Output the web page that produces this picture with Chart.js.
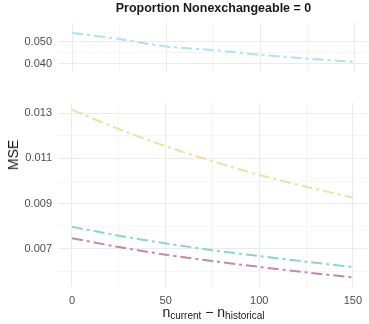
<!DOCTYPE html>
<html>
<head>
<meta charset="utf-8">
<script src="https://cdn.jsdelivr.net/npm/chart.js@4"></script>
<style>
  body { margin: 0; background: #fff; font-family: "Liberation Sans", Arial, sans-serif; }
  #wrap { position: relative; width: 369px; height: 324px; }
  #titulo { position: absolute; left: 58px; width: 311px; top: 1px; text-align: center; font-weight: bold; font-size: 12.5px; color: #1a1a1a; }
  #ylab { position: absolute; left: 13px; top: 155px; transform: translate(-50%, -50%) rotate(-90deg); font-size: 14px; color: #1a1a1a; white-space: nowrap; }
  #xlab { position: absolute; left: 58px; width: 311px; top: 304px; text-align: center; font-size: 14px; color: #1a1a1a; white-space: nowrap; }
  #xlab sub { font-size: 10px; vertical-align: -2px; }
  #cTop { position: absolute; left: 0; top: 0; }
  #cBot { position: absolute; left: 0; top: 90px; }
</style>
</head>
<body>
<div id="wrap">
  <canvas id="cTop" width="369" height="84"></canvas>
  <canvas id="cBot" width="369" height="234"></canvas>
  <div id="titulo">Proportion Nonexchangeable = 0</div>
  <div id="ylab">MSE</div>
  <div id="xlab">n<sub>current</sub> &minus; n<sub>historical</sub></div>
</div>
<script>
// datos
const diferencias = [0, 25, 50, 75, 100, 125, 150];
const mseAzul     = [0.0540, 0.0512, 0.0478, 0.0462, 0.0440, 0.0423, 0.0408];
const mseAmarillo = [0.01315, 0.01230, 0.01154, 0.01088, 0.01027, 0.00975, 0.00927];
const mseVerde    = [0.00797, 0.00758, 0.00724, 0.00694, 0.00668, 0.00643, 0.00619];
const mseRosa     = [0.00747, 0.00708, 0.00674, 0.00646, 0.00620, 0.00596, 0.00573];

const xTicks = [0, 25, 50, 75, 100, 125, 150];
const xLabels = [0, 50, 100, 150];
const yTicksTop = [0.040, 0.045, 0.050];
const yLabelsTop = [0.040, 0.050];
const yTicksBot = [0.006, 0.007, 0.008, 0.009, 0.010, 0.011, 0.012, 0.013];
const yLabelsBot = [0.007, 0.009, 0.011, 0.013];

const FUENTE = "'Liberation Sans', Arial, sans-serif";
const dash = [11, 4, 3, 4];

function serie(valores, color) {
    return {
        data: diferencias.map((x, i) => ({ x: x, y: valores[i] })),
        borderColor: color,
        borderWidth: 2,
        borderDash: dash,
        pointRadius: 0,
        tension: 0.3,
        fill: false
    };
}

function esMayor(v, lista) {
    return lista.some(t => Math.abs(t - v) < 1e-9);
}

function gridOpts(lista) {
    return {
        color: ctx => esMayor(ctx.tick.value, lista) ? '#ebebeb' : '#f3f3f3',
        lineWidth: ctx => esMayor(ctx.tick.value, lista) ? 1.1 : 0.8,
        drawTicks: false
    };
}

function ejeX(conEtiquetas) {
    return {
        type: 'linear',
        min: -7.5,
        max: 157.5,
        afterBuildTicks: s => { s.ticks = xTicks.map(v => ({ value: v })); },
        afterFit: s => { s.height = conEtiquetas ? 37 : 0; },
        grid: gridOpts(xLabels),
        border: { display: false },
        ticks: {
            display: conEtiquetas,
            padding: 7,
            maxRotation: 0,
            color: '#4d4d4d',
            font: { family: FUENTE, size: 11 },
            callback: v => esMayor(v, xLabels) ? String(v) : ''
        }
    };
}

function ejeY(min, max, ticks, labels) {
    return {
        min: min,
        max: max,
        afterBuildTicks: s => { s.ticks = ticks.map(v => ({ value: v })); },
        afterFit: s => { s.width = 58; },
        grid: gridOpts(labels),
        border: { display: false },
        ticks: {
            padding: 6,
            color: '#4d4d4d',
            font: { family: FUENTE, size: 11 },
            callback: v => esMayor(v, labels) ? v.toFixed(3) : ''
        }
    };
}

const comunes = {
    responsive: false,
    animation: false,
    plugins: { legend: { display: false }, tooltip: { enabled: false } }
};

new Chart(document.getElementById('cTop'), {
    type: 'line',
    data: { datasets: [serie(mseAzul, '#b3def3')] },
    options: {
        ...comunes,
        layout: { padding: { top: 23, bottom: 4, left: 0, right: 0 } },
        scales: {
            x: ejeX(false),
            y: ejeY(0.0365, 0.0585, yTicksTop, yLabelsTop)
        }
    }
});

new Chart(document.getElementById('cBot'), {
    type: 'line',
    data: {
        datasets: [
            serie(mseAmarillo, '#eedfa6'),
            serie(mseVerde, '#8fd4c3'),
            serie(mseRosa, '#c28aa3')
        ]
    },
    options: {
        ...comunes,
        layout: { padding: { top: 10, bottom: 0, left: 0, right: 0 } },
        scales: {
            x: ejeX(true),
            y: ejeY(0.00531, 0.01347, yTicksBot, yLabelsBot)
        }
    }
});
</script>
</body>
</html>
